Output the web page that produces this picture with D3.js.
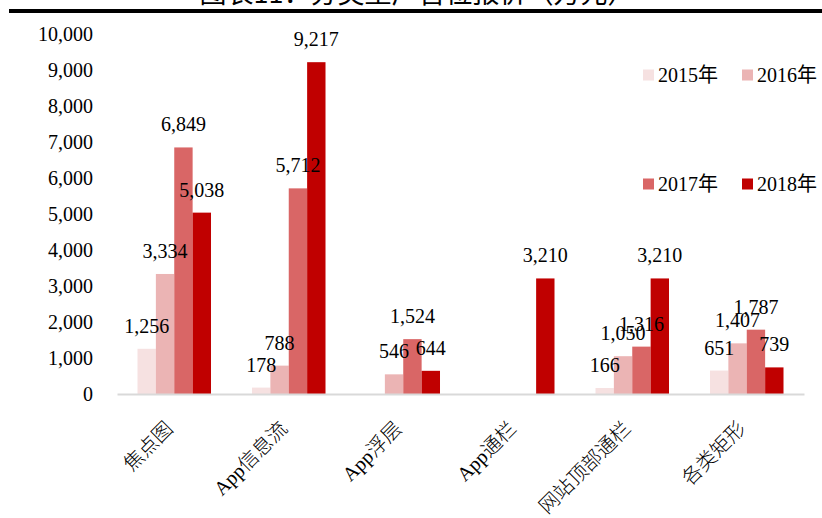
<!DOCTYPE html>
<html>
<head>
<meta charset="utf-8">
<script src="https://cdn.jsdelivr.net/npm/d3@7"></script>
<style>
  body { margin: 0; background: #fff; }
  svg { display: block; font-family: "Liberation Serif", "Noto Sans CJK SC", serif; }
</style>
</head>
<body>
<svg id="chart" width="822" height="518"></svg>
<script>
// data
const title = "图表11：分类型广告位报价（万元）";
const categories = ["焦点图", "App信息流", "App浮层", "App通栏", "网站顶部通栏", "各类矩形"];
const years = ["2015年", "2016年", "2017年", "2018年"];
const values2015 = [1256, 178, null, null, 166, 651];
const values2016 = [3334, 788, 546, null, 1050, 1407];
const values2017 = [6849, 5712, 1524, null, 1316, 1787];
const values2018 = [5038, 9217, 644, 3210, 3210, 739];
const yTicks = [0, 1000, 2000, 3000, 4000, 5000, 6000, 7000, 8000, 9000, 10000];

const colors = ["#f6e1e1", "#ebb4b4", "#d96666", "#c00000"];
const seriesValues = [values2015, values2016, values2017, values2018];

const svg = d3.select("#chart");
const margin = { top: 34, right: 18, bottom: 124, left: 117 };
const innerWidth = 822 - margin.left - margin.right;
const innerHeight = 518 - margin.top - margin.bottom;

// title strip, mostly cut off at the top of the picture
svg.append("text")
  .attr("x", 417)
  .attr("y", 3)
  .attr("text-anchor", "middle")
  .style("font-size", "27px")
  .style("font-family", "'Noto Sans CJK SC', 'Liberation Serif', serif")
  .text(title);

svg.append("line")
  .attr("x1", 9).attr("x2", 822)
  .attr("y1", 11).attr("y2", 11)
  .attr("stroke", "#000")
  .attr("stroke-width", 4);

const g = svg.append("g")
  .attr("transform", `translate(${margin.left},${margin.top})`);

// Scales
const x0 = d3.scaleBand()
  .domain(categories)
  .range([0, innerWidth])
  .padding(0);

const groupWidth = x0.bandwidth() * 0.642;
const x1 = d3.scaleBand()
  .domain(years)
  .range([(x0.bandwidth() - groupWidth) / 2, (x0.bandwidth() + groupWidth) / 2])
  .padding(0);

const y = d3.scaleLinear()
  .domain([0, 10000])
  .range([innerHeight, 0]);

// y axis (labels only)
const yAxis = g.append("g")
  .call(d3.axisLeft(y).tickValues(yTicks).tickFormat(d3.format(",")).tickSize(0).tickPadding(24));
yAxis.select(".domain").remove();
yAxis.selectAll("text")
  .style("font-size", "20px")
  .style("font-family", "'Liberation Serif', serif")
  .attr("fill", "#000");

// bars
const bars = [];
seriesValues.forEach((vals, i) => {
  vals.forEach((v, j) => {
    if (v != null) bars.push({ cat: categories[j], year: years[i], value: v, color: colors[i] });
  });
});

g.selectAll("rect.bar")
  .data(bars)
  .enter()
  .append("rect")
  .attr("class", "bar")
  .attr("x", d => x0(d.cat) + x1(d.year))
  .attr("y", d => y(d.value))
  .attr("width", x1.bandwidth())
  .attr("height", d => innerHeight - y(d.value))
  .attr("fill", d => d.color);

// x axis
const xAxis = g.append("g")
  .attr("transform", `translate(0,${innerHeight})`)
  .call(d3.axisBottom(x0).tickSize(0).tickSizeOuter(0));
xAxis.select(".domain")
  .attr("stroke", "#d9d9d9")
  .attr("stroke-width", 2);
xAxis.selectAll("text")
  .style("font-size", "20px")
  .style("font-family", "'Liberation Serif', 'Noto Sans CJK SC', serif")
  .style("font-weight", "300")
  .attr("fill", "#000")
  .attr("text-anchor", "end")
  .attr("transform", "translate(-5,31) rotate(-45)")
  .attr("x", 0)
  .attr("y", 0)
  .attr("dy", "0.35em");

// value labels
g.selectAll("text.val")
  .data(bars)
  .enter()
  .append("text")
  .attr("class", "val")
  .attr("x", d => x0(d.cat) + x1(d.year) + x1.bandwidth() / 2)
  .attr("y", d => y(d.value) - 16)
  .attr("text-anchor", "middle")
  .style("font-size", "20px")
  .text(d => d3.format(",")(d.value));

// legend
const legendPos = [[643, 75], [742, 75], [643, 184], [742, 184]];
const legend = svg.append("g");
years.forEach((yr, i) => {
  const item = legend.append("g")
    .attr("transform", `translate(${legendPos[i][0]},${legendPos[i][1]})`);
  item.append("rect")
    .attr("x", 0).attr("y", -5.5)
    .attr("width", 11).attr("height", 11)
    .attr("fill", colors[i]);
  item.append("text")
    .attr("x", 15)
    .attr("y", 0)
    .attr("dy", "0.35em")
    .style("font-size", "20px")
    .text(yr);
});
</script>
</body>
</html>
